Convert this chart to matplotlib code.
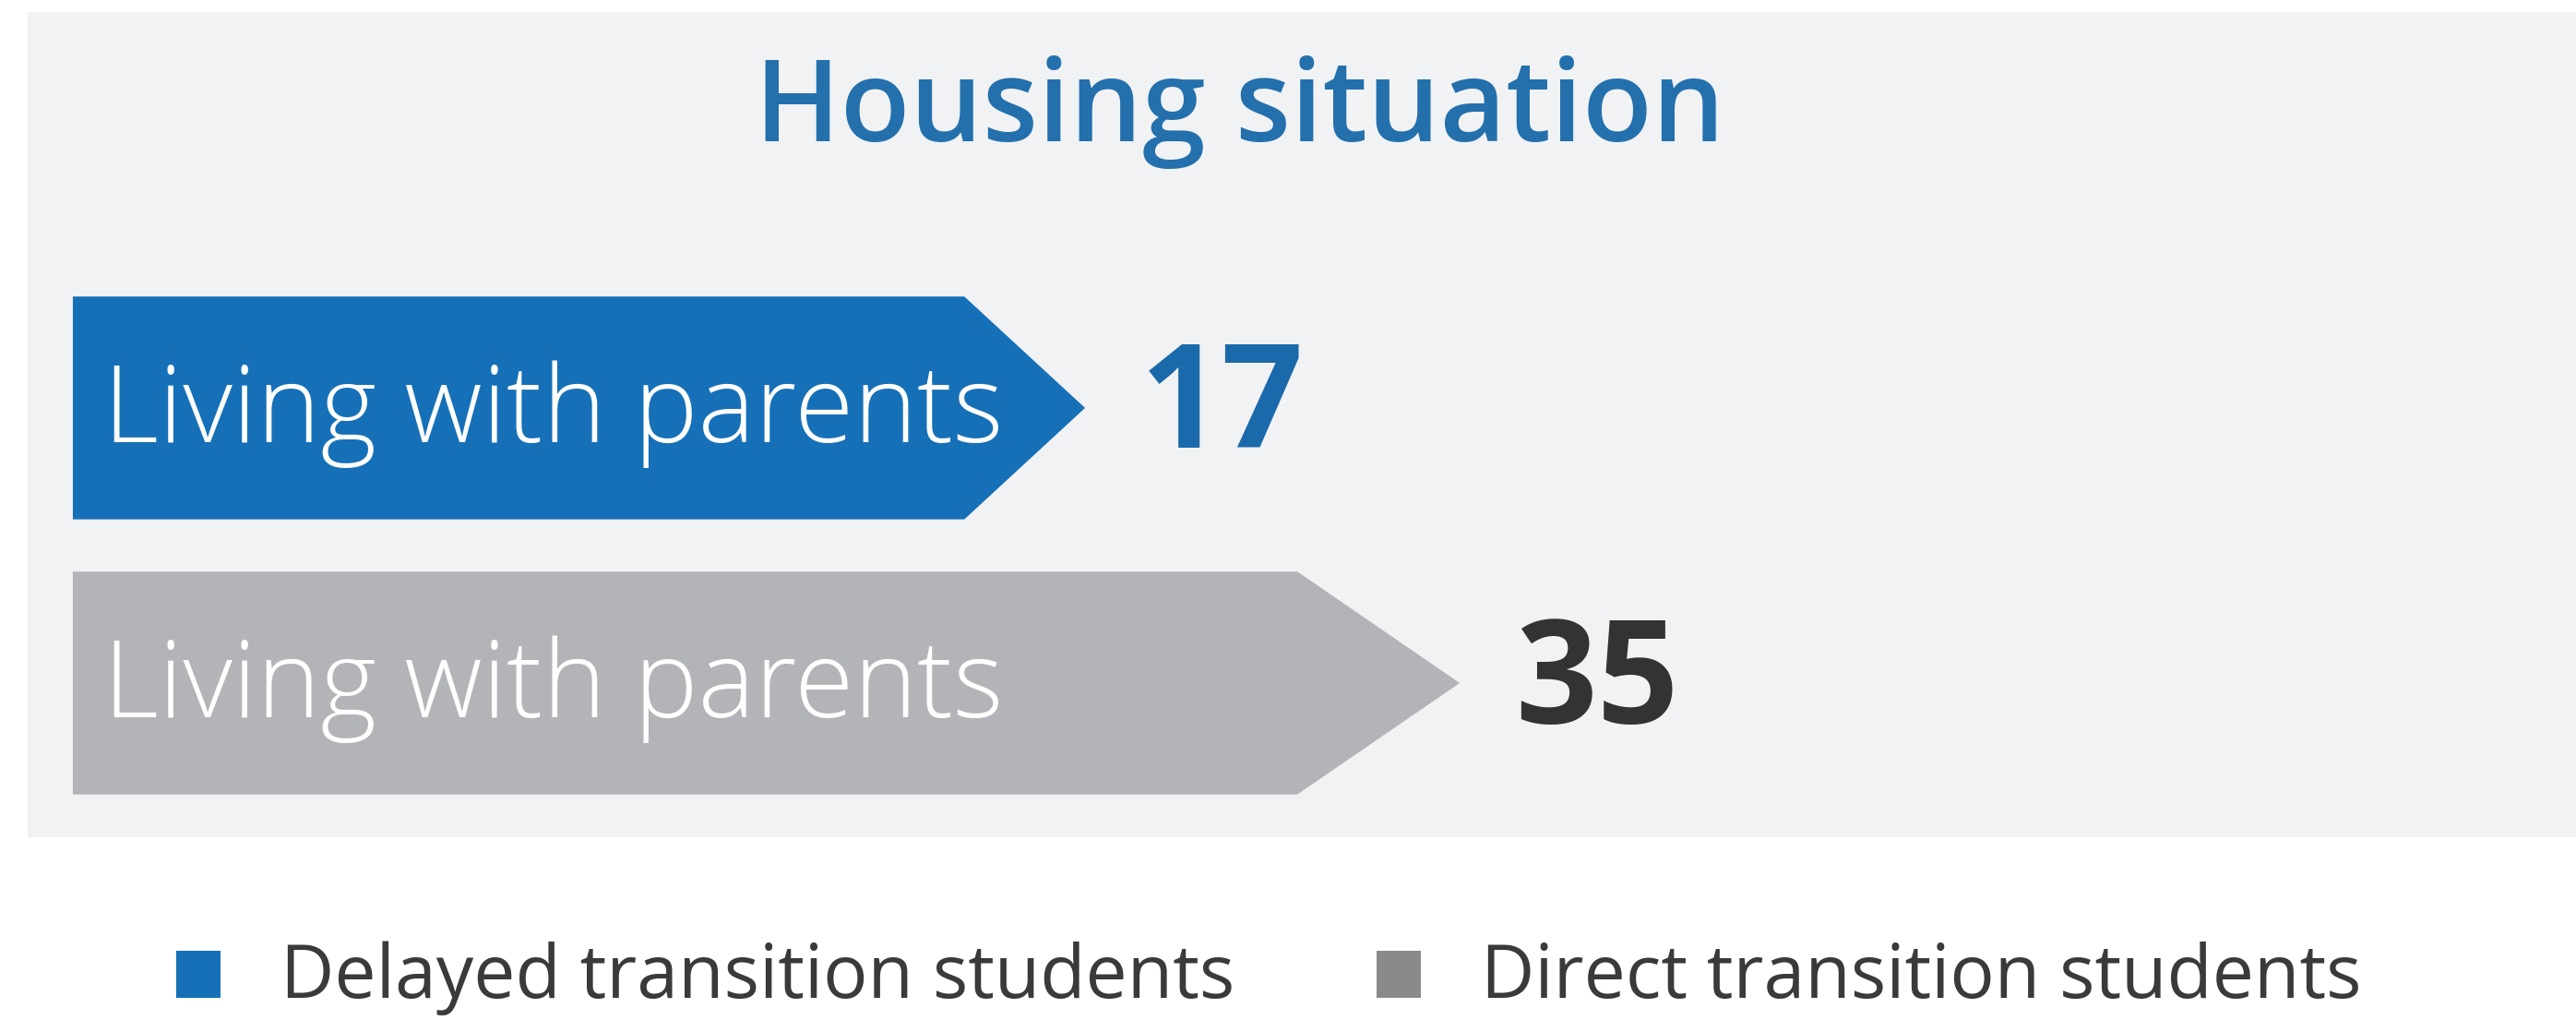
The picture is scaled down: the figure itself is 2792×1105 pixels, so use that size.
"""
Housing situation: arrow bars for delayed vs direct transition students.
"""
import matplotlib
matplotlib.use("Agg")
import matplotlib.pyplot as plt
from matplotlib.patches import Polygon, Rectangle

# data
groups = ["Delayed transition students", "Direct transition students"]
bar_labels = ["Living with parents", "Living with parents"]
values = [17, 35]

title = "Housing situation"
bar_colors = ["#1570b8", "#b3b4b7"]
value_colors = ["#1a69ab", "#333333"]
legend_colors = ["#1570b8", "#8a8a8a"]
tip_len = [5.8, 7.8]   # arrow head length, in value units

W, H = 2792, 1105
DPI = 100
FONT = "Open Sans"

fig = plt.figure(figsize=(W / DPI, H / DPI), dpi=DPI, facecolor="white")

# light panel behind chart
fig.patches.append(Rectangle((30 / W, 1 - 907 / H), (W - 30) / W, (907 - 13) / H,
                             transform=fig.transFigure, facecolor="#f1f2f4",
                             edgecolor="none", zorder=-1))

ax = fig.add_axes([0, 0, 1, 1])
ax.set_facecolor("none")
ax.set_xlim(-35.13, 88.63)
ax.set_ylim(2.225, -1.483)
ax.axis("off")

start = -31.63
bar_h = 0.81
for i, (lab, v) in enumerate(zip(bar_labels, values)):
    y0, y1 = i - bar_h / 2, i + bar_h / 2
    pts = [(start, y0), (v - tip_len[i], y0), (v, i), (v - tip_len[i], y1), (start, y1)]
    ax.add_patch(Polygon(pts, closed=True, facecolor=bar_colors[i], edgecolor="none"))
    ax.annotate(lab, (start, i), xytext=(33, -37), textcoords="offset pixels",
                ha="left", va="baseline", color="white", fontsize=84,
                family=FONT, fontweight="light")
    ax.annotate(str(v), (v, i), xytext=(60, -43), textcoords="offset pixels",
                ha="left", va="baseline", color=value_colors[i], fontsize=112,
                family=FONT, fontweight="bold")

fig.text(1344 / W, 1 - 153 / H, title, ha="center", va="baseline",
         color="#2370ad", fontsize=89, family=FONT, fontweight="semibold")

# legend
leg_x = [191, 1492]
for i, g in enumerate(groups):
    fig.patches.append(Rectangle((leg_x[i] / W, 1 - 1081 / H), 48 / W, 51 / H,
                                 transform=fig.transFigure, facecolor=legend_colors[i],
                                 edgecolor="none"))
    fig.text((leg_x[i] + 113) / W, 1 - 1081 / H, g, ha="left", va="baseline",
             color="#3a3a3a", fontsize=58, family=FONT)

fig.savefig("out.png", dpi=DPI, facecolor="white")
